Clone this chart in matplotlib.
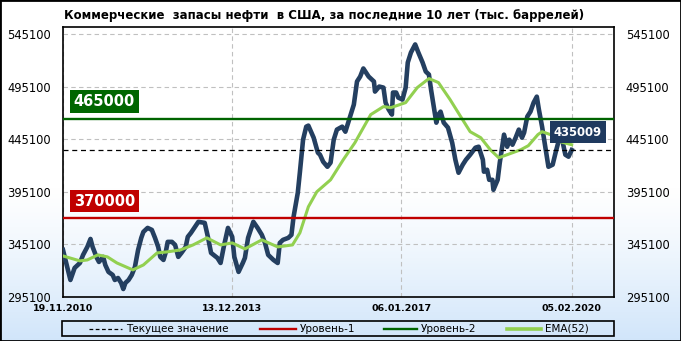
import numpy as np
import matplotlib
matplotlib.use('Agg')
import matplotlib.pyplot as plt
from matplotlib.lines import Line2D
from matplotlib.patches import Rectangle

# Data (thousand barrels), weekly index from 19.11.2010
weeks = [0, 7, 11, 16, 19, 23, 26, 28, 32, 34,
         38, 40, 43, 47, 49, 52, 55, 57, 59, 62,
         65, 68, 71, 74, 76, 80, 84, 87, 90, 92,
         95, 97, 99, 103, 106, 109, 112, 116, 118, 121,
         128, 134, 137, 140, 146, 149, 152, 156, 160, 162,
         166, 170, 172, 175, 180, 184, 188, 191, 194, 199,
         203, 205, 208, 213, 216, 218, 222, 224, 227, 230,
         232, 237, 241, 243, 246, 250, 253, 256, 259, 264,
         267, 270, 273, 275, 278, 281, 284, 289, 294, 295,
         299, 303, 305, 308, 311, 312, 315, 317, 321, 324,
         326, 329, 333, 336, 340, 343, 346, 348, 350, 353,
         355, 357, 360, 364, 368, 371, 374, 378, 381, 385,
         390, 393, 397, 398, 401, 403, 406, 407, 411, 413,
         417, 420, 422, 425, 428, 431, 434, 436, 439, 442,
         445, 448, 450, 453, 456, 459, 463, 466, 469, 472,
         473, 475, 478, 481]
stocks = [339900, 311300, 322800, 327500, 335200, 342800, 350400, 342800, 332300, 328500,
          333300, 325600, 319000, 316100, 311300, 313200, 308500, 302700, 308500, 311300,
          316100, 323700, 339900, 351400, 357100, 360900, 359000, 351400, 342800, 333300,
          330400, 337100, 347600, 347600, 344700, 333300, 337100, 342800, 352400, 356200,
          366700, 365700, 352400, 337100, 332300, 327500, 342800, 360900, 352400, 333300,
          319000, 327500, 332300, 351400, 366700, 360900, 354300, 346600, 335200, 330400,
          327500, 346600, 349500, 351400, 354300, 371400, 394300, 414000, 444900, 457300,
          458300, 446800, 432500, 430600, 423900, 419100, 423000, 444900, 454500, 457300,
          452500, 462100, 471600, 478300, 500300, 505000, 512700, 505000, 500300, 490700,
          495500, 494500, 480200, 473500, 468800, 489800, 489800, 485000, 483100, 494500,
          518400, 527900, 535600, 527900, 518400, 509800, 506900, 492600, 480200, 461100,
          468800, 471600, 461100, 456400, 442000, 425800, 413400, 421100, 425800, 430600,
          437300, 438200, 425800, 414400, 416300, 406700, 406700, 397200, 406700, 423000,
          449700, 438200, 444900, 440100, 446800, 454500, 446800, 451600, 466900, 471600,
          480200, 485900, 473500, 457300, 438200, 419100, 421100, 433500, 444900, 446800,
          440100, 430600, 428700, 435009]

ema_weeks = [0, 16, 23, 33, 42, 51, 66, 76, 89, 98,
             111, 123, 136, 149, 160, 172, 188, 203, 217, 224,
             232, 240, 253, 265, 276, 291, 303, 310, 324, 335,
             346, 355, 366, 376, 385, 395, 404, 412, 420, 433,
             440, 449, 453, 461, 470, 481]
ema_vals = [334200, 329500, 330400, 335200, 333300, 327500, 320900, 325600, 337100, 338000,
            339900, 344700, 351400, 344700, 346600, 340900, 349500, 342800, 344700, 356200,
            381000, 395300, 406700, 425800, 442000, 468800, 476400, 475400, 480200, 494500,
            503100, 499300, 483100, 466900, 452500, 446800, 435400, 427700, 430600, 435400,
            439200, 449700, 452500, 449700, 443000, 440100]

level_1 = 370000
level_2 = 465000
current = stocks[-1]

x_ticks = [0, 160, 320, 481]
x_labels = ['19.11.2010', '13.12.2013', '06.01.2017', '05.02.2020']
y_ticks = [295100, 345100, 395100, 445100, 495100, 545100]

title = 'Коммерческие  запасы нефти  в США, за последние 10 лет (тыс. баррелей)'
legend_labels = ['Текущее значение', 'Уровень-1', 'Уровень-2', 'EMA(52)']

navy = '#243f60'
red = '#c00000'
green = '#006400'
lime = '#92d050'

W, H = 681, 341
fig = plt.figure(figsize=(W / 100, H / 100), dpi=100)

# background gradient, white on top, light blue at the bottom
bg = fig.add_axes([0, 0, 1, 1], zorder=-10)
t = np.linspace(0, 1, H)
ramp = np.clip((t - 0.55) / 0.45, 0, 1)[:, None] ** 1.2
bottom = np.array([0.82, 0.90, 0.98])
grad = 1 - ramp * (1 - bottom)
bg.imshow(grad[:, None, :], aspect='auto', extent=[0, 1, 0, 1])
bg.axis('off')

ax = fig.add_axes([63 / W, 44 / H, 551 / W, 270 / H])
ax.set_facecolor('none')
for s in ax.spines.values():
    s.set_color('black')
    s.set_linewidth(1.2)

ax.plot(weeks, stocks, color=navy, lw=3.3, solid_joinstyle='round', zorder=4)
ax.plot(ema_weeks, ema_vals, color=lime, lw=2.2, zorder=5)
ax.axhline(level_1, color=red, lw=1.7, zorder=6)
ax.axhline(level_2, color=green, lw=1.7, zorder=6)
ax.axhline(current, color='black', lw=0.9, linestyle=(0, (4, 3)), zorder=6)

ax.set_xlim(0, 521)
ax.set_ylim(295100, 552200)
ax.set_xticks(x_ticks, x_labels)
ax.set_yticks(y_ticks)
ax.tick_params(axis='y', length=0, pad=8.5, labelsize=8.3, labelleft=True, labelright=True)
ax.tick_params(axis='x', length=0, pad=5, labelsize=6.8)
for lab in ax.get_xticklabels():
    lab.set_fontweight('bold')
ax.grid(True, color='#c0c0c0', linestyle=(0, (4, 3)), linewidth=0.8)

for lvl, col in [(level_2, '#006600'), (level_1, red)]:
    ax.annotate(str(lvl), xy=(0.075, lvl), xycoords=('axes fraction', 'data'),
                xytext=(0, 17), textcoords='offset pixels', ha='center', va='center',
                color='white', fontsize=10.5, fontweight='bold', zorder=7,
                bbox=dict(boxstyle='square,pad=0.25', fc=col, ec='none'))

ax.annotate(str(current), xy=(weeks[-1], current), xytext=(6, 18),
            textcoords='offset pixels', ha='center', va='center', color='white',
            fontsize=8.4, fontweight='bold', zorder=7,
            bbox=dict(boxstyle='square,pad=0.35', fc='#1f3a5f', ec='none'))

fig.text(324.5 / W, 1 - 16 / H, title, ha='center', va='center', fontsize=8.5, fontweight='bold')

# legend
fig.add_artist(Rectangle((62 / W, 5 / H), 552 / W, 15 / H, transform=fig.transFigure,
                         fill=False, ec='black', lw=1.2))
ly = 12.5 / H
styles = [dict(color='black', lw=0.9, linestyle=(0, (3, 2))),
          dict(color=red, lw=1.7),
          dict(color=green, lw=1.7),
          dict(color=lime, lw=2.6)]
spans = [(89, 122), (260, 296), (384, 417), (507, 541)]
for (x0, x1), st, lab in zip(spans, styles, legend_labels):
    fig.add_artist(Line2D([x0 / W, x1 / W], [ly, ly], transform=fig.transFigure, **st))
    fig.text((x1 + 4) / W, ly, lab, ha='left', va='center', fontsize=7.5)

fig.add_artist(Rectangle((0, 0), 1, 1, transform=fig.transFigure, fill=False, ec='black', lw=2))

fig.savefig('out.png', dpi=100)
